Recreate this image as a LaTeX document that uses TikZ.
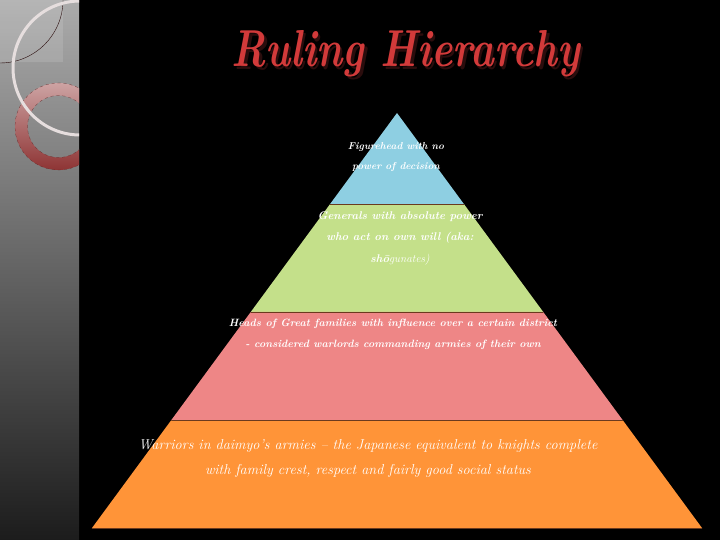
\documentclass[tikz,border=0pt]{standalone}
\usepackage{fontspec}
\usepackage{graphicx}
\usetikzlibrary{calc}
\definecolor{panelTop}{HTML}{ABABAB}
\definecolor{panelBot}{HTML}{1C1C1C}
\definecolor{ringRedTop}{HTML}{CDA3A3}
\definecolor{ringRedBot}{HTML}{8E3434}
\definecolor{ringWhite}{HTML}{E6DEDE}
\definecolor{pyrBlue}{HTML}{8ECFE2}
\definecolor{pyrGreen}{HTML}{C4E08A}
\definecolor{pyrPink}{HTML}{EE8686}
\definecolor{pyrOrange}{HTML}{FF9438}
\definecolor{bandEdge}{HTML}{6B3A1E}
\definecolor{titleRed}{HTML}{D23A3A}
\definecolor{titleShadow}{HTML}{2B0D0D}
\newcommand{\shadowtext}[1]{\makebox[0pt][l]{\hspace{3pt}\raisebox{-3pt}{\color{titleShadow}#1}}#1}
\begin{document}
\begin{tikzpicture}[x=1pt,y=-1pt,line join=round,line cap=round,
  lbl/.style={text=white,align=center,inner sep=0pt,font=\fontsize{10.6}{21}\selectfont\bfseries\itshape},
  biglbl/.style={lbl,font=\fontsize{14.3}{25}\selectfont\itshape},
  titlefont/.style={inner sep=0pt,font=\fontsize{52}{52}\selectfont\bfseries\itshape}]
  % background and side panel
  \fill[black] (0,0) rectangle (720,540);
  \shade[top color=panelTop,bottom color=panelBot] (0,0) rectangle (79,540);
  \begin{scope}
    \clip (0,0) rectangle (79,540);
    \fill[white,opacity=0.12] (0,0) rectangle (63,62);
    \draw[titleShadow,thin] (63,0) arc (0:90:63);
    \shade[even odd rule,top color=ringRedTop,bottom color=ringRedBot]
      (58.5,126.5) circle (43.5) (58.5,126.5) circle (31);
    \draw[ringRedBot!70!black,very thin,dashed] (58.5,126.5) circle (43.5);
    \draw[ringRedBot!70!black,very thin,dashed] (58.5,126.5) circle (31);
    \draw[ringWhite,line width=3pt] (80,68) circle (67);
  \end{scope}
  % title
  \node[titlefont,text=titleRed] (title) at (406,55) {\scalebox{0.775}[1]{\shadowtext{Ruling Hierarchy}}};
  % pyramid
  \coordinate (apex) at (397,113);
  \coordinate (bl) at (92,528);
  \coordinate (br) at (702,528);
  \coordinate (l1) at ($(apex)!0.2193!(bl)$);
  \coordinate (r1) at ($(apex)!0.2193!(br)$);
  \coordinate (l2) at ($(apex)!0.4795!(bl)$);
  \coordinate (r2) at ($(apex)!0.4795!(br)$);
  \coordinate (l3) at ($(apex)!0.7398!(bl)$);
  \coordinate (r3) at ($(apex)!0.7398!(br)$);
  \fill[pyrBlue] (apex) -- (r1) -- (l1) -- cycle;
  \fill[pyrGreen] (l1) -- (r1) -- (r2) -- (l2) -- cycle;
  \fill[pyrPink] (l2) -- (r2) -- (r3) -- (l3) -- cycle;
  \fill[pyrOrange] (l3) -- (r3) -- (br) -- (bl) -- cycle;
  \draw[bandEdge,thin] (l1) -- (r1);
  \draw[bandEdge,thin] (l2) -- (r2);
  \draw[bandEdge,thin] (l3) -- (r3);
  \draw[bandEdge,thin] (bl) -- (br);
  % labels
  \node[lbl,font=\fontsize{10}{20}\selectfont\bfseries\itshape] (emperor) at (396,157) {Figurehead with no\\power of decision};
  \node[lbl,font=\fontsize{11.2}{21.5}\selectfont\bfseries\itshape] (shogun) at (400,238) {Generals with absolute power\\who act on own will (aka:\\shō{\mdseries gunates)}};
  \node[lbl] (daimyo) at (393,334) {Heads of Great families with influence over a certain district\\- considered warlords commanding armies of their own};
  \node[biglbl] (samurai) at (368,458) {Warriors in daimyo’s armies -- the Japanese equivalent to knights complete\\with family crest, respect and fairly good social status};
\end{tikzpicture}
\end{document}
